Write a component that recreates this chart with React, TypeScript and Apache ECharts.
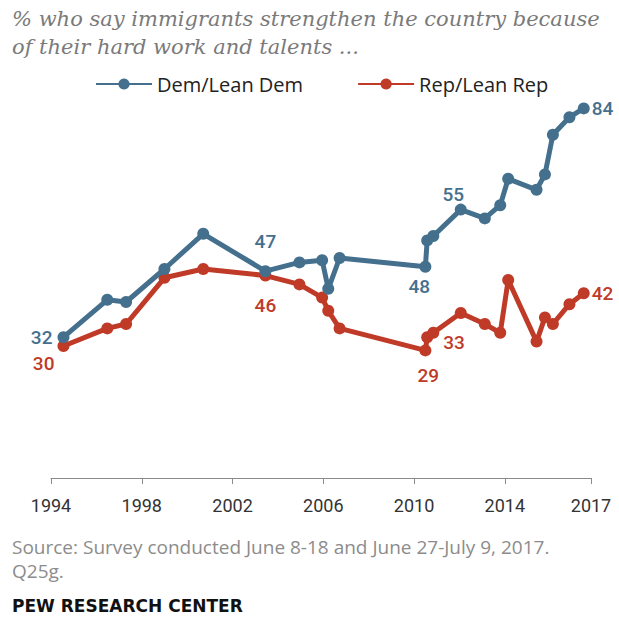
import { useEffect, useRef } from 'react';
import * as echarts from 'echarts';

// Survey dates (decimal years) shared by both series
const surveyDates = [1994.55, 1996.48, 1997.31, 1999.0, 2000.71, 2003.45, 2004.95, 2005.95, 2006.22, 2006.72, 2010.5, 2010.58, 2010.85, 2012.06, 2013.12, 2013.8, 2014.15, 2015.4, 2015.77, 2016.12, 2016.85, 2017.48];
const demValues = [32, 40.5, 40, 47.5, 55.5, 47, 49, 49.5, 43, 50, 48, 54, 55, 61, 59, 62, 68, 65.5, 69, 78, 82, 84];
const repValues = [30, 34, 35, 45.5, 47.5, 46, 44, 41, 38, 34, 29, 32, 33, 37.5, 35, 33, 45, 31, 36.5, 35, 39.5, 42];
const tickYears = [1994, 1998, 2002, 2006, 2010, 2014, 2017.8];
const tickLabels = ['1994', '1998', '2002', '2006', '2010', '2014', '2017'];
const seriesNames = ['Dem/Lean Dem', 'Rep/Lean Rep'];
const titleLines = ['% who say immigrants strengthen the country because', 'of their hard work and talents ...'];
const sourceLines = ['Source: Survey conducted June 8-18 and June 27-July 9, 2017.', 'Q25g.'];
const creditText = 'PEW RESEARCH CENTER';

const DEM = '#44708e';
const REP = '#c03a28';

// which points carry a value label, and where it sits
const demLabelSpots: Record<number, any> = {
  0: { position: 'left', distance: 5 },
  5: { position: 'top', distance: 14 },
  10: { position: 'bottom', distance: 4, offset: [-6, 0] },
  12: { position: 'top', distance: 4, offset: [20, -22] },
  21: { position: 'right', distance: 2 },
};
const repLabelSpots: Record<number, any> = {
  0: { position: 'left', distance: 5, offset: [2, 17] },
  5: { position: 'bottom', distance: 14 },
  10: { position: 'bottom', distance: 10, offset: [3, 0] },
  12: { position: 'right', distance: 4, offset: [0, 10] },
  21: { position: 'right', distance: 2 },
};

function buildData(values: number[], spots: Record<number, any>, color: string) {
  return values.map((v, i) => {
    const item: any = { value: [surveyDates[i], v] };
    if (spots[i]) {
      item.label = {
        show: true,
        ...spots[i],
        color,
        fontSize: 19,
        fontWeight: 500,
        fontFamily: 'Roboto, sans-serif',
        formatter: (p: any) => String(p.value[1]),
      };
    }
    return item;
  });
}

export default function App() {
  const ref = useRef<HTMLDivElement>(null);
  useEffect(() => {
    if (!ref.current) return;
    const chart = echarts.init(ref.current, undefined, { renderer: 'svg' });
    const lineSeries = (name: string, values: number[], spots: Record<number, any>, color: string) => ({
      name,
      type: 'line',
      data: buildData(values, spots, color),
      symbol: 'circle',
      symbolSize: 12,
      showAllSymbol: true,
      lineStyle: { color, width: 5 },
      itemStyle: { color },
      label: { show: false },
      emphasis: { disabled: true },
      z: name === seriesNames[0] ? 3 : 2,
    });
    chart.setOption({
      animation: false,
      backgroundColor: '#ffffff',
      grid: { left: 51, right: 28, top: 38, bottom: 141, containLabel: false },
      legend: {
        data: seriesNames,
        left: 90,
        top: 69,
        itemWidth: 56,
        itemHeight: 14,
        itemGap: 54,
        textStyle: { fontSize: 20, color: '#222', fontFamily: 'Open Sans, sans-serif' },
      },
      xAxis: {
        type: 'value',
        min: 1994,
        max: 2017.8,
        splitLine: { show: false },
        axisLine: { show: true, lineStyle: { color: '#8a8a8a', width: 1 } },
        axisTick: { show: true, length: 6, lineStyle: { color: '#8a8a8a' }, customValues: tickYears },
        axisLabel: {
          customValues: tickYears,
          formatter: (v: number) => tickLabels[tickYears.indexOf(v)] ?? '',
          fontSize: 18,
          color: '#333',
          margin: 18,
          fontFamily: 'Roboto, sans-serif',
        },
      },
      yAxis: { type: 'value', min: 0, max: 100, show: false, splitLine: { show: false } },
      series: [
        lineSeries(seriesNames[1], repValues, repLabelSpots, REP),
        lineSeries(seriesNames[0], demValues, demLabelSpots, DEM),
      ],
      graphic: [
        {
          type: 'text', left: 12, top: 5,
          style: {
            text: titleLines.join('\n'), fill: '#7a7a7a', fontSize: 21, lineHeight: 28,
            fontStyle: 'italic', fontFamily: 'DejaVu Serif, serif',
          },
        },
        {
          type: 'text', left: 12, top: 537,
          style: { text: sourceLines[0], fill: '#8c8c8c', fontSize: 19, fontFamily: 'Open Sans, sans-serif' },
        },
        {
          type: 'text', left: 12, top: 561,
          style: { text: sourceLines[1], fill: '#8c8c8c', fontSize: 19, fontFamily: 'Open Sans, sans-serif' },
        },
        {
          type: 'text', left: 12, top: 597,
          style: { text: creditText, fill: '#111', fontSize: 17, fontWeight: 'bold', fontFamily: 'DejaVu Sans, sans-serif' },
        },
      ],
    });
    return () => chart.dispose();
  }, []);
  return <div ref={ref} style={{ position: 'absolute', left: 0, top: 0, width: 619, height: 619 }} />;
}
